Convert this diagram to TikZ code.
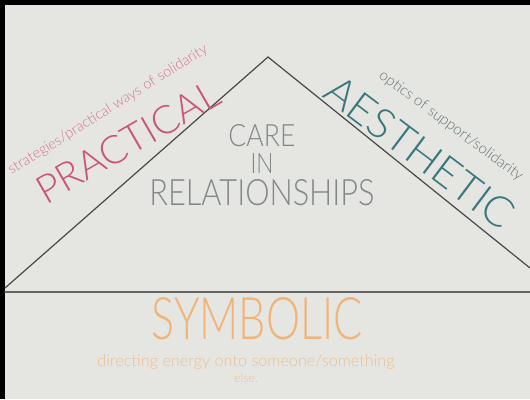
\documentclass[tikz,border=0pt]{standalone}
\usepackage{fontspec}
\setmainfont{Lato Light}
\usepackage{graphicx}
\usepackage{xcolor}
\usetikzlibrary{positioning}

\definecolor{paper}{RGB}{229,230,226}
\definecolor{ink}{RGB}{72,72,72}
\definecolor{rose}{RGB}{203,84,114}
\definecolor{roselight}{RGB}{214,118,138}
\definecolor{teal}{RGB}{58,118,124}
\definecolor{teallight}{RGB}{104,118,118}
\definecolor{slate}{RGB}{128,136,138}
\definecolor{peach}{RGB}{240,180,120}
\definecolor{peachlight}{RGB}{236,190,142}

% stretch a word to a given width and height (in pt)
\newcommand{\fittext}[3]{\resizebox{#1pt}{#2pt}{#3}}

\begin{document}
\begin{tikzpicture}[x=1pt, y=-1pt, node distance=6pt]
 % styles for the words and the lines
 \tikzset{
word/.style = {inner sep=0pt, outer sep=0pt},
edge/.style = {draw, ink, line width=1.2pt, line cap=round},
}

 % paper and dark border of the photo
 \fill[black] (0,0) rectangle (530,399);
 \fill[paper] (5,5) rectangle (530,399);
 \useasboundingbox (0,0) rectangle (530,399);

 % corners of the triangle
 \coordinate (apex) at (268,57);
 \coordinate (left) at (5,288);
 \coordinate (right) at (530,268);
 \coordinate (baseL) at (5,292);
 \coordinate (baseR) at (530,292);

 \draw [edge] (left) -- (apex) -- (right);
 \draw [edge, line width=1.6pt, color=ink!85] (baseL) -- (baseR);

 % centre of the triangle
 \node [word, slate] (care) at (262,136) {\fittext{67}{22}{CARE}};
 \node [word, slate, below=of care] (in) {\fittext{23}{20}{IN}};
 \node [word, slate, below=of in] (rel) {\fittext{225}{26}{RELATIONSHIPS}};

 % left side
 \node [word, rose, rotate=30] (practical) at (128,142) {\fittext{205}{28}{PRACTICAL}};
 \node [word, roselight, rotate=32] (practicalnote) at (108,110)
   {\resizebox{232pt}{!}{strategies/practical ways of solidarity}};

 % right side
 \node [word, teal, rotate=-37] (aesthetic) at (420,152) {\fittext{225}{30}{AESTHETIC}};
 \node [word, teallight, rotate=-36.5] (aestheticnote) at (451,126)
   {\resizebox{175pt}{!}{optics of support/solidarity}};

 % bottom band
 \node [word, peach] (symbolic) at (257,319) {\fittext{211}{42}{SYMBOLIC}};
 \node [word, peachlight] (symbolicnote) at (246,362)
   {\resizebox{297pt}{!}{directing energy onto someone/something}};
 \node [word, peachlight, below=4pt of symbolicnote] (else) {\resizebox{24pt}{!}{else.}};

\end{tikzpicture}
\end{document}
